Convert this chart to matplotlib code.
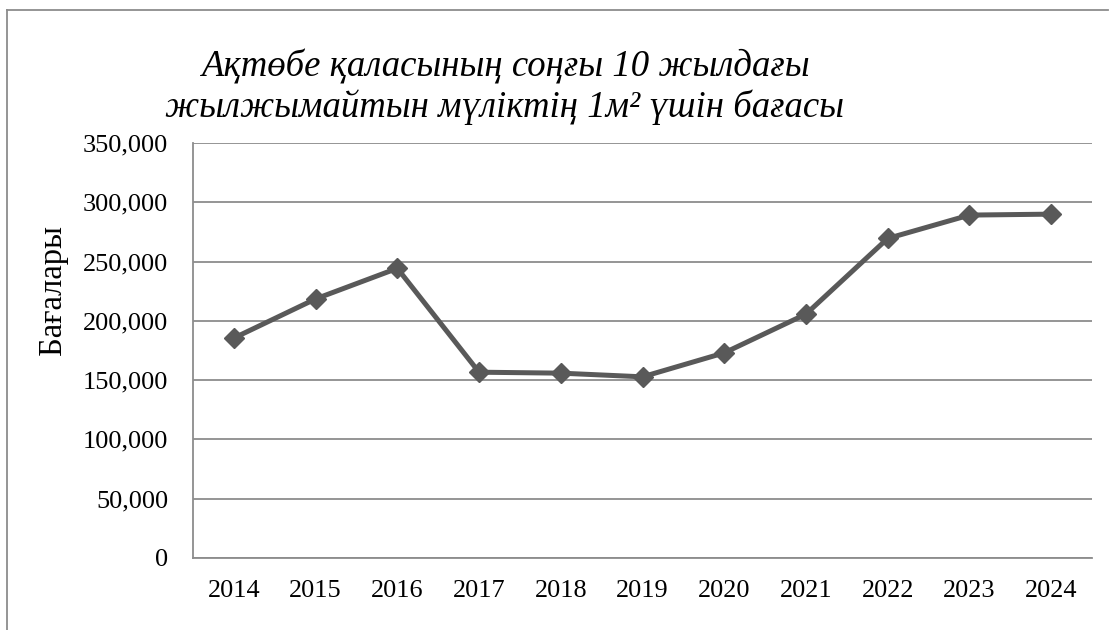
import matplotlib
matplotlib.use("Agg")
import matplotlib.pyplot as plt
from matplotlib.lines import Line2D
from matplotlib.ticker import FuncFormatter

years = ["2014", "2015", "2016", "2017", "2018", "2019", "2020", "2021", "2022", "2023", "2024"]
prices = [185500, 218500, 244300, 156700, 155900, 152800, 173000, 205700, 269500, 289200, 290000]
yticks = [0, 50000, 100000, 150000, 200000, 250000, 300000, 350000]
title_line1 = "Ақтөбе қаласының соңғы 10 жылдағы"
title_line2 = "жылжымайтын мүліктің 1м² үшін бағасы"
ylabel = "Бағалары"

W, H = 1109, 630
fig = plt.figure(figsize=(W / 100, H / 100), dpi=100)
plt.rcParams['font.family'] = ['Liberation Serif', 'DejaVu Serif']

L, R, T, B = 193, 1092, 143, 558
ax = fig.add_axes([L / W, 1 - B / H, (R - L) / W, (B - T) / H])

grid_color = "#8c8c8c"
line_color = "#595959"

x = list(range(len(years)))
ax.plot(x, prices, color=line_color, lw=3.6, marker="D", ms=10,
        markerfacecolor=line_color, markeredgecolor=line_color, zorder=3,
        solid_joinstyle="miter")

ax.set_xlim(-0.5, len(years) - 0.5)
ax.set_ylim(0, 350000)
ax.set_yticks(yticks)
ax.yaxis.set_major_formatter(FuncFormatter(lambda v, p: f"{int(v):,}"))
ax.set_xticks(x)
ax.set_xticklabels(years)

ax.grid(axis="y", color=grid_color, lw=1.3)
ax.set_axisbelow(True)
for s in ["top", "right"]:
    ax.spines[s].set_visible(False)
for s in ["left", "bottom"]:
    ax.spines[s].set_color(grid_color)
    ax.spines[s].set_linewidth(1.3)

ax.tick_params(axis="y", length=0, pad=18, labelsize=18.9, labelcolor="black")
ax.tick_params(axis="x", length=0, pad=16, labelsize=18.9, labelcolor="black")

# titles
fig.text(505 / W, 1 - 77 / H, title_line1, ha="center", va="baseline",
         fontsize=26.5, style="italic")
fig.text(505 / W, 1 - 117 / H, title_line2, ha="center", va="baseline",
         fontsize=26.5, style="italic")

# y label
fig.text(53 / W, 1 - 290 / H, ylabel, rotation=90, ha="center", va="center",
         fontsize=23.5)

# chart area frame (partial)
fig.add_artist(Line2D([7 / W, 7 / W], [0, 1 - 10 / H], transform=fig.transFigure,
                      color=grid_color, lw=1.3))
fig.add_artist(Line2D([7 / W, 1108 / W], [1 - 10 / H, 1 - 10 / H], transform=fig.transFigure,
                      color=grid_color, lw=1.3))

fig.savefig("out.png", dpi=100)
